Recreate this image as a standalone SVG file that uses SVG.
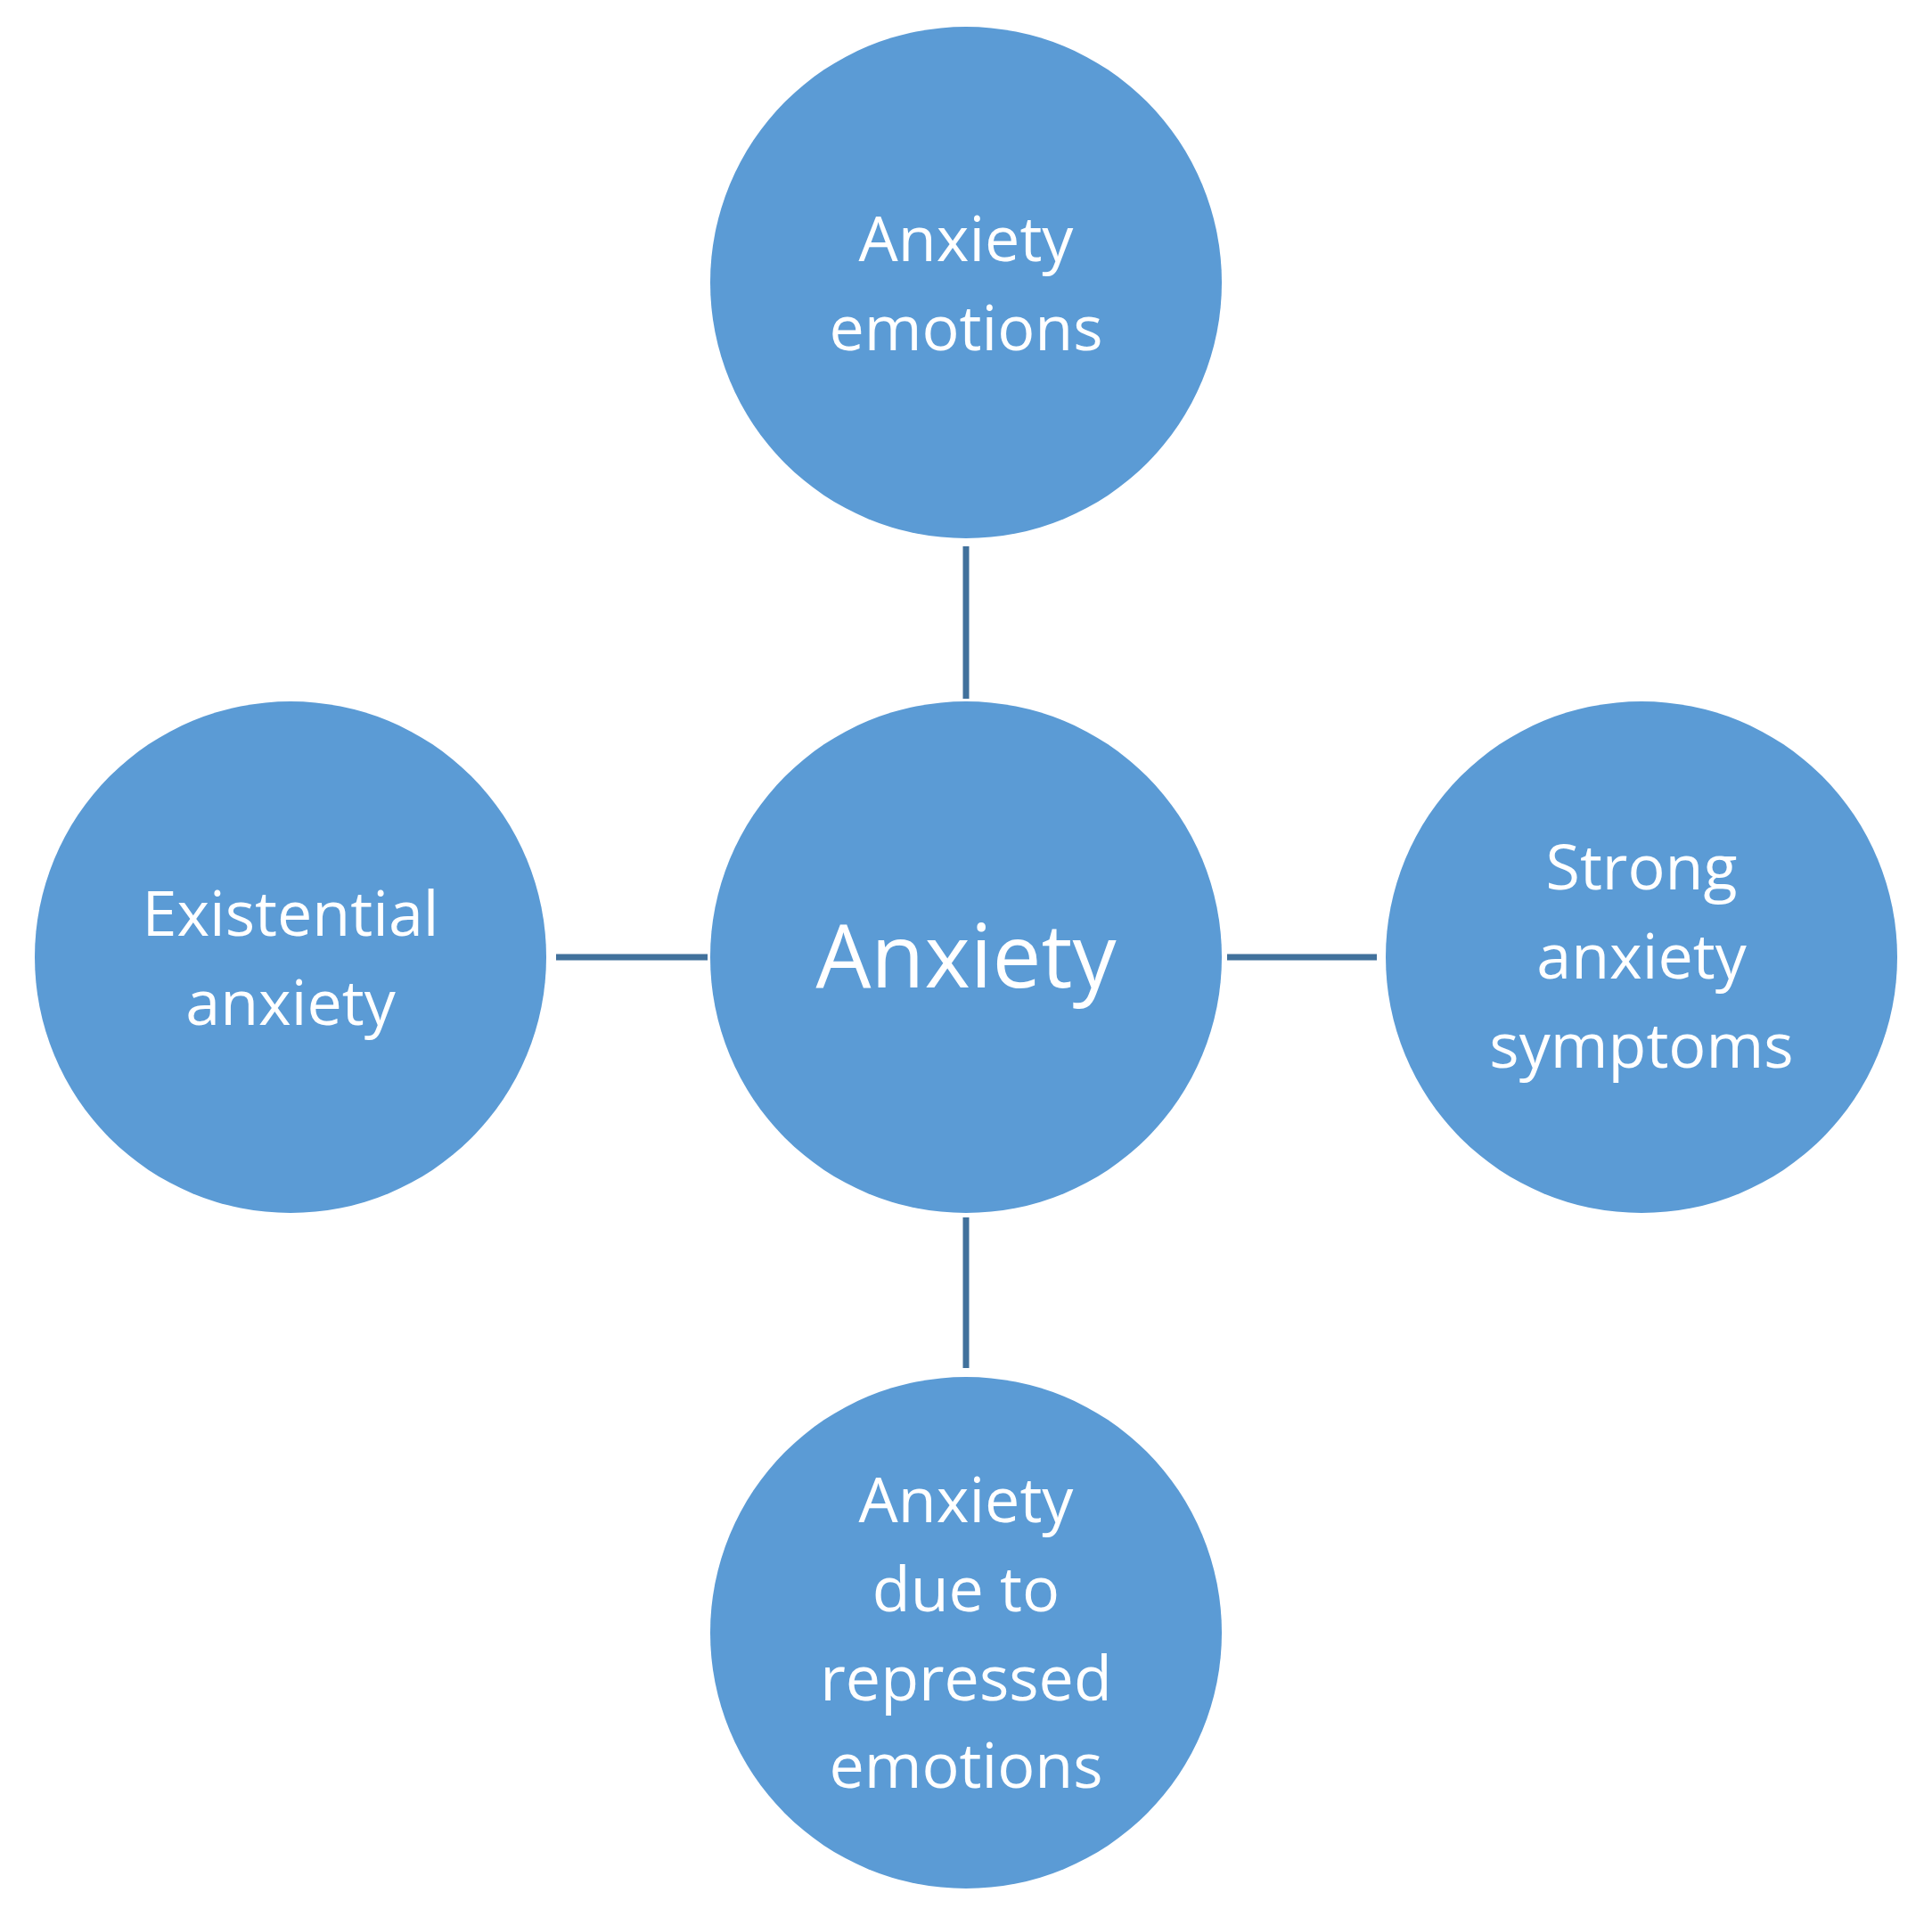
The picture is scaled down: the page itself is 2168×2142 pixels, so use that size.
<svg xmlns="http://www.w3.org/2000/svg" width="2168" height="2142" viewBox="0 0 2168 2142">
<style>
.n{fill:#5B9BD5}
.t{fill:#fff;font-family:"Open Sans","Noto Sans",sans-serif;font-size:70px;text-anchor:middle}
.c{stroke:#41719C;stroke-width:7;fill:none}
</style>
<rect width="2168" height="2142" fill="#fff"/>
<g id="connectors">
<line class="c" x1="1084" y1="613" x2="1084" y2="784"/>
<line class="c" x1="1084" y1="1366" x2="1084" y2="1535"/>
<line class="c" x1="624" y1="1074" x2="794" y2="1074"/>
<line class="c" x1="1377" y1="1074" x2="1545" y2="1074"/>
</g>
<g id="center"><circle class="n" cx="1084" cy="1074" r="287"/><text class="t" x="1084" y="1108" style="font-size:98px">Anxiety</text></g>
<g id="top"><circle class="n" cx="1084" cy="317" r="287"/><text class="t" x="1084" y="293">Anxiety</text><text class="t" x="1084" y="393">emotions</text></g>
<g id="left"><circle class="n" cx="326" cy="1074" r="287"/><text class="t" x="326" y="1050">Existential</text><text class="t" x="326" y="1150">anxiety</text></g>
<g id="right"><circle class="n" cx="1842" cy="1074" r="287"/><text class="t" x="1842" y="998">Strong</text><text class="t" x="1842" y="1098">anxiety</text><text class="t" x="1842" y="1198">symptoms</text></g>
<g id="bottom"><circle class="n" cx="1084" cy="1832" r="287"/><text class="t" x="1084" y="1708">Anxiety</text><text class="t" x="1084" y="1808">due to</text><text class="t" x="1084" y="1908">repressed</text><text class="t" x="1084" y="2006">emotions</text></g>
</svg>
